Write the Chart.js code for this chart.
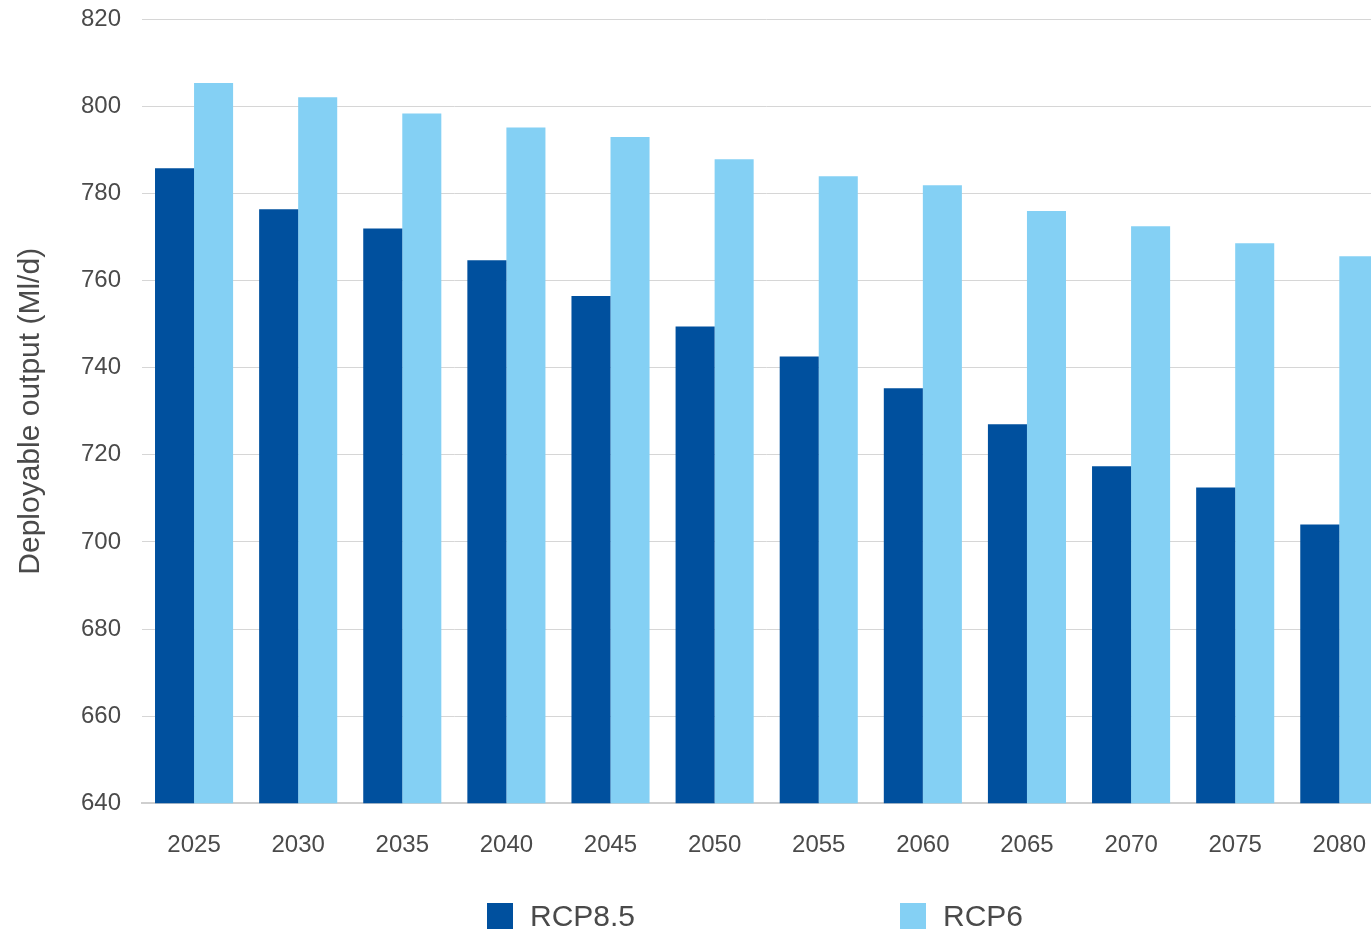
<!DOCTYPE html>
<html>
<head>
<meta charset="utf-8">
<script src="https://cdn.jsdelivr.net/npm/chart.js@4"></script>
<style>
  html, body { margin: 0; padding: 0; background: #fff; overflow: hidden; }
  #wrap { position: relative; width: 1394px; height: 930px; overflow: hidden; }
  #grafico { display: block; position: absolute; left: 0; top: -16px; }
  .leg { position: absolute; top: 903px; display: flex; align-items: center; height: 26px;
         font-family: "Liberation Sans", Arial, sans-serif; font-size: 30px; color: #4a4a4a; }
  .leg span.box { display: inline-block; width: 26px; height: 26px; margin-right: 17px; }
</style>
</head>
<body>
<div id="wrap">
  <canvas id="grafico" width="1394" height="946"></canvas>
  <div id="leyenda"></div>
</div>
<script>
const years = ['2025', '2030', '2035', '2040', '2045', '2050', '2055', '2060', '2065', '2070', '2075', '2080'];
const rcp85 = [785.8, 776.4, 772, 764.7, 756.5, 749.5, 742.6, 735.3, 727, 717.4, 712.5, 704];
const rcp6 = [805.4, 802.1, 798.4, 795.2, 793, 787.9, 784, 781.9, 776, 772.5, 768.6, 765.6];
const yTicks = [640, 660, 680, 700, 720, 740, 760, 780, 800, 820];

const seriesNames = ['RCP8.5', 'RCP6'];
const colors = ['#00509e', '#84d0f4'];
const textColor = '#4a4a4a';
const font = '"Liberation Sans", Arial, sans-serif';

const ctx = document.getElementById('grafico').getContext('2d');
const chart = new Chart(ctx, {
  type: 'bar',
  data: {
    labels: years,
    datasets: [
      { label: seriesNames[0], data: rcp85, backgroundColor: colors[0] },
      { label: seriesNames[1], data: rcp6, backgroundColor: colors[1] }
    ]
  },
  options: {
    responsive: false,
    animation: false,
    devicePixelRatio: 1,
    layout: { padding: { top: 3, bottom: 42, left: 0, right: 0 } },
    datasets: { bar: { categoryPercentage: 0.75, barPercentage: 1.0 } },
    plugins: {
      legend: { display: false },
      tooltip: { enabled: false }
    },
    scales: {
      x: {
        grid: { display: false, drawTicks: false },
        border: { display: true, color: '#cfcfcf', width: 2 },
        ticks: {
          color: textColor,
          font: { family: font, size: 24 },
          padding: 28,
          maxRotation: 0,
          autoSkip: false
        }
      },
      y: {
        min: yTicks[0],
        max: yTicks[yTicks.length - 1],
        afterFit: function (scale) { scale.width = 142; },
        afterBuildTicks: function (scale) { scale.ticks = yTicks.map(v => ({ value: v })); },
        grid: { color: '#d6d6d6', lineWidth: 1, drawTicks: false },
        border: { display: false },
        ticks: {
          color: textColor,
          font: { family: font, size: 24 },
          padding: 21
        },
        title: {
          display: true,
          text: 'Deployable output (Ml/d)',
          color: textColor,
          font: { family: font, size: 30 },
          padding: { top: 13, bottom: 0 }
        }
      }
    }
  }
});

// leyenda en HTML a partir de los datasets
const legendLefts = [487, 900];
const leyenda = document.getElementById('leyenda');
chart.data.datasets.forEach((ds, i) => {
  const item = document.createElement('div');
  item.className = 'leg';
  item.style.left = legendLefts[i] + 'px';
  item.innerHTML = '<span class="box" style="background:' + ds.backgroundColor + '"></span>' + ds.label;
  leyenda.appendChild(item);
});
</script>
</body>
</html>
